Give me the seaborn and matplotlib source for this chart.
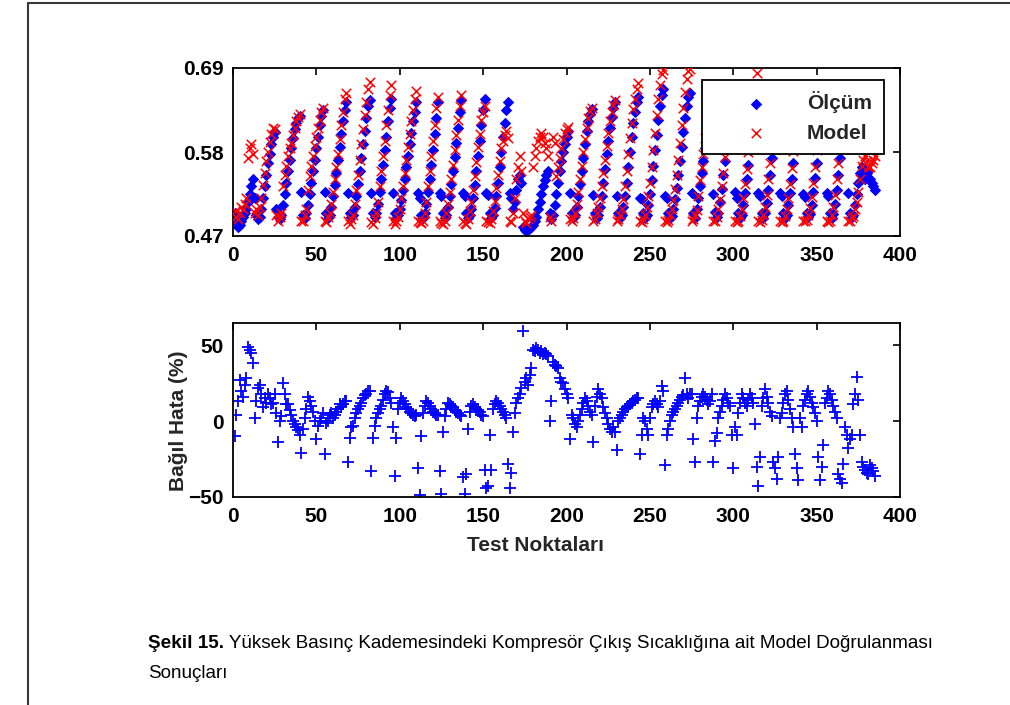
import numpy as np
import pandas as pd
import matplotlib
matplotlib.use("Agg")
import matplotlib.pyplot as plt
from matplotlib.lines import Line2D
import seaborn as sns

# ---------------- data ----------------
olcum = [
    .500, .488, .482, .485, .490, .495, .500, .505, .515, .525, .535, .545,
    .520, .498, .492, .495, .505, .520, .535, .550, .565, .578, .590, .600, .606,
    .505, .495, .492, .498, .510, .525, .540, .555, .570, .585, .598, .610, .618, .624, .627,
    .527, .498, .493, .500, .510, .525, .540, .555, .570, .585, .600, .615, .627, .635,
    .527, .500, .493, .497, .508, .522, .537, .553, .570, .587, .603, .620, .635, .645,
    .526, .500, .495, .498, .508, .522, .538, .555, .572, .590, .608, .625, .640, .648,
    .526, .500, .495, .500, .512, .528, .545, .563, .582, .600, .620, .637, .650,
    .526, .500, .494, .497, .505, .517, .530, .545, .560, .575, .590, .605, .620, .633, .645,
    .526, .520, .498, .494, .500, .512, .528, .545, .563, .582, .603, .625, .645,
    .526, .522, .500, .494, .498, .508, .522, .538, .555, .573, .592, .612, .632, .648,
    .526, .523, .500, .494, .497, .506, .520, .537, .555, .575, .595, .615, .635, .650,
    .526, .524, .500, .493, .497, .507, .522, .540, .560, .580, .600, .618, .635, .646,
    .526, .520, .505, .515, .530, .545, .550, .540, .482, .478, .476, .478, .480, .482, .485, .490,
    .495, .505, .515, .525, .535, .543, .550, .555,
    .500, .492, .498, .510, .525, .540, .555, .568, .580, .590, .600, .607,
    .526, .500, .494, .498, .508, .522, .538, .555, .572, .590, .607, .620, .630, .636,
    .524, .500, .494, .498, .508, .522, .540, .558, .577, .595, .612, .626, .638, .646,
    .522, .500, .494, .498, .508, .523, .540, .560, .580, .600, .618, .633, .645, .652,
    .520, .518, .500, .494, .498, .510, .525, .543, .562, .582, .602, .622, .640, .655, .662,
    .522, .520, .500, .494, .496, .505, .518, .533, .550, .568, .587, .606, .625, .640, .652, .657,
    .526, .500, .494, .505, .520, .536, .552, .568, .585, .605, .625, .645, .660,
    .525, .502, .495, .500, .515, .532, .550, .568, .588, .608, .628, .646, .658,
    .527, .520, .500, .494, .498, .510, .526, .544, .563, .583, .604, .625, .645, .658,
    .526, .523, .500, .494, .500, .513, .530, .550, .572, .595, .618, .640, .655,
    .526, .522, .500, .494, .498, .510, .526, .545, .565, .586, .608, .630, .650, .662,
    .525, .521, .500, .495, .499, .511, .527, .546, .566, .587, .609, .631, .651, .663,
    .526, .522, .500, .494, .499, .512, .530, .550, .572, .595, .618, .640, .655,
    .526, .500, .495, .498, .510, .525, .540, .552, .560, .548, .545, .552, .555,
    .545, .540, .535, .530,
]

model = [
    .503, .495, .492, .500, .508, .505, .512, .520, .572, .585, .590, .578,
    .500, .505, .497, .508, .520, .537, .553, .568, .580, .593, .603, .612, .610,
    .498, .490, .495, .500, .535, .550, .562, .575, .585, .592, .602, .612, .620, .626, .630,
    .490, .490, .497, .505, .530, .548, .562, .575, .588, .600, .612, .622, .632, .637,
    .490, .488, .495, .500, .512, .528, .545, .560, .578, .597, .615, .633, .650, .657,
    .490, .486, .492, .497, .512, .530, .550, .570, .590, .610, .628, .645, .662, .672,
    .488, .486, .493, .500, .515, .535, .555, .575, .595, .615, .635, .655, .668,
    .490, .486, .490, .495, .505, .520, .535, .552, .570, .587, .603, .620, .635, .650, .660,
    .490, .488, .487, .490, .500, .515, .535, .555, .575, .595, .615, .637, .652,
    .490, .487, .486, .490, .500, .512, .528, .545, .563, .582, .602, .622, .640, .655,
    .490, .487, .486, .492, .503, .515, .530, .548, .567, .586, .604, .622, .632, .640,
    .490, .488, .487, .492, .503, .516, .533, .550, .568, .585, .595, .602, .608, .598,
    .490, .488, .500, .520, .545, .560, .575, .555, .500, .490, .487, .492, .495, .498, .560, .575,
    .585, .595, .600, .605, .600, .592, .585, .575,
    .495, .490, .600, .592, .548, .560, .572, .585, .597, .605, .610, .613,
    .492, .490, .493, .500, .512, .528, .545, .562, .580, .597, .612, .625, .634, .638,
    .490, .492, .500, .508, .520, .535, .552, .570, .588, .605, .620, .632, .642, .648,
    .490, .492, .498, .505, .518, .535, .555, .577, .598, .618, .636, .650, .662, .670,
    .490, .488, .492, .498, .508, .522, .540, .560, .582, .605, .628, .650, .668, .682, .688,
    .490, .488, .491, .497, .505, .517, .532, .550, .570, .592, .615, .637, .658, .675, .686, .689,
    .490, .492, .498, .504, .523, .543, .560, .577, .598, .620, .640, .652, .660,
    .490, .490, .495, .505, .518, .535, .553, .573, .595, .617, .638, .650, .660,
    .490, .488, .490, .496, .506, .520, .538, .558, .580, .603, .627, .650, .668, .683,
    .490, .488, .491, .497, .508, .524, .544, .566, .590, .614, .638, .650, .660,
    .490, .488, .490, .496, .506, .520, .538, .559, .581, .605, .630, .645, .655, .662,
    .490, .489, .491, .497, .507, .521, .539, .560, .582, .606, .631, .645, .655, .662,
    .490, .488, .490, .497, .508, .524, .544, .566, .590, .614, .638, .650, .660,
    .490, .490, .493, .496, .505, .515, .528, .545, .562, .570, .575, .568, .560,
    .560, .565, .570, .575,
]

hata = [
    -10, 4, 13, 27, 20, 16, 24, 28, 49, 47, 45, 38,
    2, 13, 22, 24, 18, 9, 15, 12, 18, 15, 11, 12, 18,
    5, -14, 0, 3, 25, 18, 11, 11, 7, 4, 0, -2, -4, -6, -9,
    -21, -5, 2, 8, 16, 13, 10, 6, 0, -12, -3, 0, 2, 5,
    -22, -1, 0, 4, 5, 2, 4, 6, 8, 11, 9, 11, 13, 13,
    -27, -11, -4, -3, 2, 5, 8, 10, 12, 15, 17, 18, 20, 20,
    -33, -11, -3, 2, 5, 8, 10, 14, 18, 20, 19, 15, 12,
    -4, -36, -11, 8, 12, 15, 13, 11, 9, 8, 6, 5, 4, 3, 4,
    -31, -49, -10, 5, 10, 13, 12, 10, 8, 6, 5, 4, 4,
    -33, -48, -7, 3, 8, 12, 11, 10, 9, 7, 6, 5, 4, 3,
    -37, -48, -35, -5, 6, 10, 11, 9, 8, 7, 6, 4, 3, -32,
    -44, -43, -9, -32, 8, 11, 13, 12, 10, 8, 6, 4, 2, -28,
    -44, -34, -7, 5, 12, 15, 18, 22, 59, 26, 28, 24, 30, 35, 47, 46,
    48, 47, 45, 46, 44, 45, 44, 43,
    0, 13, 39, 37, 36, 35, 28, 26, 25, 21, 18, 15,
    -12, 4, 2, -2, -4, 0, 4, 8, 12, 15, 13, 10, 6, 4,
    -14, 10, 16, 21, 18, 15, 9, 5, 2, -2, -5, -7, -4, -7,
    -19, 0, 2, 4, 6, 8, 9, 10, 11, 12, 13, 14, 15, 15,
    -22, -9, 2, 0, -5, -9, 2, 9, 11, 13, 11, 9, 13, 23, 20,
    -29, -9, -5, 0, 4, 6, 8, 10, 12, 14, 16, 17, 28, 18, 15, 18,
    18, -12, -27, 2, 10, 13, 16, 18, 16, 14, 11, 13, 18,
    -27, -13, -8, 2, 6, 10, 14, 18, 15, 12, 10, -9, -31,
    -4, -9, 5, 12, 18, 15, 12, 10, 14, 18, 15, 12, -2, -30,
    -43, -24, 10, 15, 21, 16, 12, 6, 3, -27, -31, -38, -24,
    2, 5, 12, 18, 20, 14, 8, 2, -4, -22, -31, -39, 2, -4,
    10, 14, 18, 20, 16, 12, 9, 5, 0, -24, -39, -30, -16, 12,
    15, 20, 18, 14, 10, 6, 2, -35, -38, -41, -28, -4, -9,
    -18, -12, -9, 11, 18, 29, 14, -9, -27, -30, -32, -34, -35,
    -29, -31, -33, -36,
]

x_ticks = [0, 50, 100, 150, 200, 250, 300, 350, 400]
y_ticks_top = [0.47, 0.58, 0.69]
y_ticks_bot = [-50, 0, 50]
series_labels = ["Ölçüm", "Model"]
x_label = "Test Noktaları"
y_label = "Bağıl Hata (%)"
caption_bold = "Şekil 15."
caption_rest = " Yüksek Basınç Kademesindeki Kompresör Çıkış Sıcaklığına ait Model Doğrulanması"
caption_line2 = "Sonuçları"

# ---------------- style ----------------
sns.set_style("white")
plt.rcParams['font.family'] = ['Liberation Sans', 'DejaVu Sans']
plt.rcParams['font.weight'] = 'bold'
plt.rcParams['axes.labelweight'] = 'bold'

BLUE = (0, 0, 1)
RED = (1, 0, 0)

fig = plt.figure(figsize=(10.1, 7.05), dpi=100)
ax1 = fig.add_axes([233 / 1010, 1 - 236 / 705, 667 / 1010, 168 / 705])
ax2 = fig.add_axes([233 / 1010, 1 - 497 / 705, 667 / 1010, 174 / 705])

top = pd.DataFrame({"n": np.arange(1, len(olcum) + 1), "olcum": olcum})
topm = pd.DataFrame({"n": np.arange(1, len(model) + 1), "model": model})
bot = pd.DataFrame({"n": np.arange(1, len(hata) + 1), "hata": hata})

sns.scatterplot(data=top, x="n", y="olcum", ax=ax1, marker="D", color=BLUE,
                s=34, linewidth=0, label=series_labels[0], zorder=2)
sns.scatterplot(data=topm, x="n", y="model", ax=ax1, marker="x", color=RED,
                s=46, linewidth=1.1, label=series_labels[1], zorder=3)
sns.scatterplot(data=bot, x="n", y="hata", ax=ax2, marker="+", color=BLUE,
                s=72, linewidth=1.3, legend=False, zorder=2)

for ax in (ax1, ax2):
    ax.set_xlim(0, 400)
    ax.set_xticks(x_ticks)
    ax.set_xlabel("")
    ax.set_ylabel("")
    ax.tick_params(direction="in", top=True, right=True, length=5, width=1.2,
                   labelsize=15, pad=7, colors="black")
    for sp in ax.spines.values():
        sp.set_visible(True)
        sp.set_color("black")
        sp.set_linewidth(1.3)
    for lbl in ax.get_xticklabels() + ax.get_yticklabels():
        lbl.set_fontweight("bold")

ax1.set_ylim(0.47, 0.69)
ax1.set_yticks(y_ticks_top)
ax1.set_yticklabels([f"{v:.2f}" for v in y_ticks_top], fontweight="bold")
ax2.set_ylim(-50, 64.5)
ax2.set_yticks(y_ticks_bot)

ax2.set_xlabel(x_label, fontsize=15, fontweight="bold")
ax2.xaxis.set_label_coords(0.453, -0.225)
ax2.set_ylabel(y_label, fontsize=15, fontweight="bold")
ax2.yaxis.set_label_coords(-0.068, 0.44)

leg = ax1.legend(loc="upper left", bbox_to_anchor=(0.703, 0.929), fontsize=15,
                 frameon=True, fancybox=False, framealpha=1, edgecolor="black",
                 handlelength=4.1, handletextpad=0.4, borderpad=0.55,
                 labelspacing=0.5, borderaxespad=0, scatterpoints=1)
leg.get_frame().set_linewidth(1.3)
leg.set_zorder(10)

# page frame lines (top and left)
fig.add_artist(Line2D([28 / 1010, 1.0], [1 - 3 / 705, 1 - 3 / 705], color="#3a3a3a", lw=1.5))
fig.add_artist(Line2D([28 / 1010, 28 / 1010], [0.0, 1 - 3 / 705], color="#3a3a3a", lw=1.5))

# caption
fig.canvas.draw()
r = fig.canvas.get_renderer()
t1 = fig.text(148 / 1010, 1 - 643 / 705, caption_bold, fontsize=13.6, fontweight="bold",
              ha="left", va="center", color="black")
bb = t1.get_window_extent(renderer=r)
fig.text(bb.x1 / fig.bbox.width, 1 - 643 / 705, caption_rest, fontsize=13.6,
         fontweight="normal", ha="left", va="center", color="black")
fig.text(148 / 1010, 1 - 673 / 705, caption_line2, fontsize=13.6, fontweight="normal",
         ha="left", va="center", color="black")

fig.savefig("out.png", dpi=100, facecolor="white")
